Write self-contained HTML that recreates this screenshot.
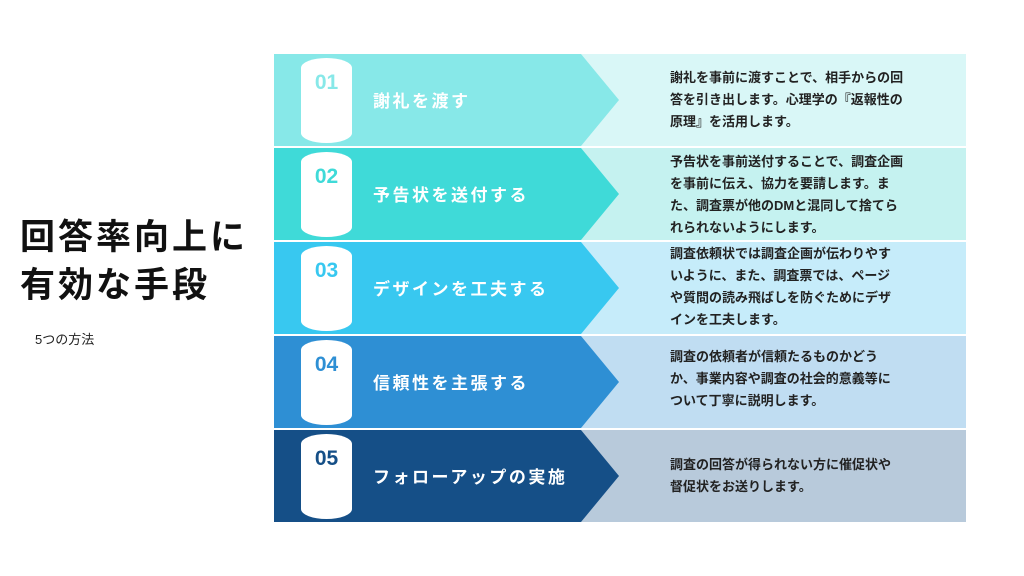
<!DOCTYPE html>
<html><head><meta charset="utf-8"><style>
*{margin:0;padding:0;box-sizing:border-box}
body{width:1024px;height:576px;background:#fff;position:relative;overflow:hidden;font-family:"Liberation Sans","Noto Sans CJK JP",sans-serif}
.t{position:absolute;left:20px;top:214px;font-size:35px;font-weight:bold;color:#111;line-height:48px;letter-spacing:3px}
.s{position:absolute;left:35px;top:329px;font-size:13px;color:#222}
.row{position:absolute;left:274px;width:692px;height:92px}
.r{position:absolute;left:306px;top:0;width:386px;height:92px}
.l{position:absolute;left:0;top:0;width:350px;height:92px}
.b{position:absolute;left:27px;top:4px;width:51px;height:85px;background:#fff;border-radius:50%/10px}
.n{position:absolute;left:27px;top:17px;width:51px;text-align:center;font-size:21px;font-weight:bold}
.lab{position:absolute;left:99px;top:33px;font-size:17px;font-weight:bold;color:#fff;letter-spacing:2.5px}
.d{position:absolute;left:396px;font-size:13px;font-weight:bold;color:#222;line-height:22px}
</style></head><body>
<div class="t">回答率向上に<br>有効な手段</div>
<div class="s">5つの方法</div>

<div class="row" style="top:54px">
<div class="r" style="background:#D9F7F7"></div>
<svg class="l" viewBox="0 0 350 92"><polygon points="0,0 307,0 345,46 307,92 0,92" fill="#87E8E8"/></svg>
<div class="b"></div><div class="n" style="color:#87E8E8">01</div>
<div class="lab">謝礼を渡す</div>
<div class="d" style="top:13px">謝礼を事前に渡すことで、相手からの回<br>答を引き出します。心理学の『返報性の<br>原理』を活用します。</div>
</div>

<div class="row" style="top:148px">
<div class="r" style="background:#C5F2F0"></div>
<svg class="l" viewBox="0 0 350 92"><polygon points="0,0 307,0 345,46 307,92 0,92" fill="#3FDAD8"/></svg>
<div class="b"></div><div class="n" style="color:#3FDAD8">02</div>
<div class="lab">予告状を送付する</div>
<div class="d" style="top:3px">予告状を事前送付することで、調査企画<br>を事前に伝え、協力を要請します。ま<br>た、調査票が他のDMと混同して捨てら<br>れられないようにします。</div>
</div>

<div class="row" style="top:242px">
<div class="r" style="background:#C6ECFA"></div>
<svg class="l" viewBox="0 0 350 92"><polygon points="0,0 307,0 345,46 307,92 0,92" fill="#38C8F0"/></svg>
<div class="b"></div><div class="n" style="color:#38C8F0">03</div>
<div class="lab">デザインを工夫する</div>
<div class="d" style="top:1px">調査依頼状では調査企画が伝わりやす<br>いように、また、調査票では、ページ<br>や質問の読み飛ばしを防ぐためにデザ<br>インを工夫します。</div>
</div>

<div class="row" style="top:336px">
<div class="r" style="background:#C0DDF2"></div>
<svg class="l" viewBox="0 0 350 92"><polygon points="0,0 307,0 345,46 307,92 0,92" fill="#2E8FD4"/></svg>
<div class="b"></div><div class="n" style="color:#2E8FD4">04</div>
<div class="lab">信頼性を主張する</div>
<div class="d" style="top:10px">調査の依頼者が信頼たるものかどう<br>か、事業内容や調査の社会的意義等に<br>ついて丁寧に説明します。</div>
</div>

<div class="row" style="top:430px">
<div class="r" style="background:#B8CADB"></div>
<svg class="l" viewBox="0 0 350 92"><polygon points="0,0 307,0 345,46 307,92 0,92" fill="#154F87"/></svg>
<div class="b"></div><div class="n" style="color:#154F87">05</div>
<div class="lab">フォローアップの実施</div>
<div class="d" style="top:24px">調査の回答が得られない方に催促状や<br>督促状をお送りします。</div>
</div>
</body></html>
